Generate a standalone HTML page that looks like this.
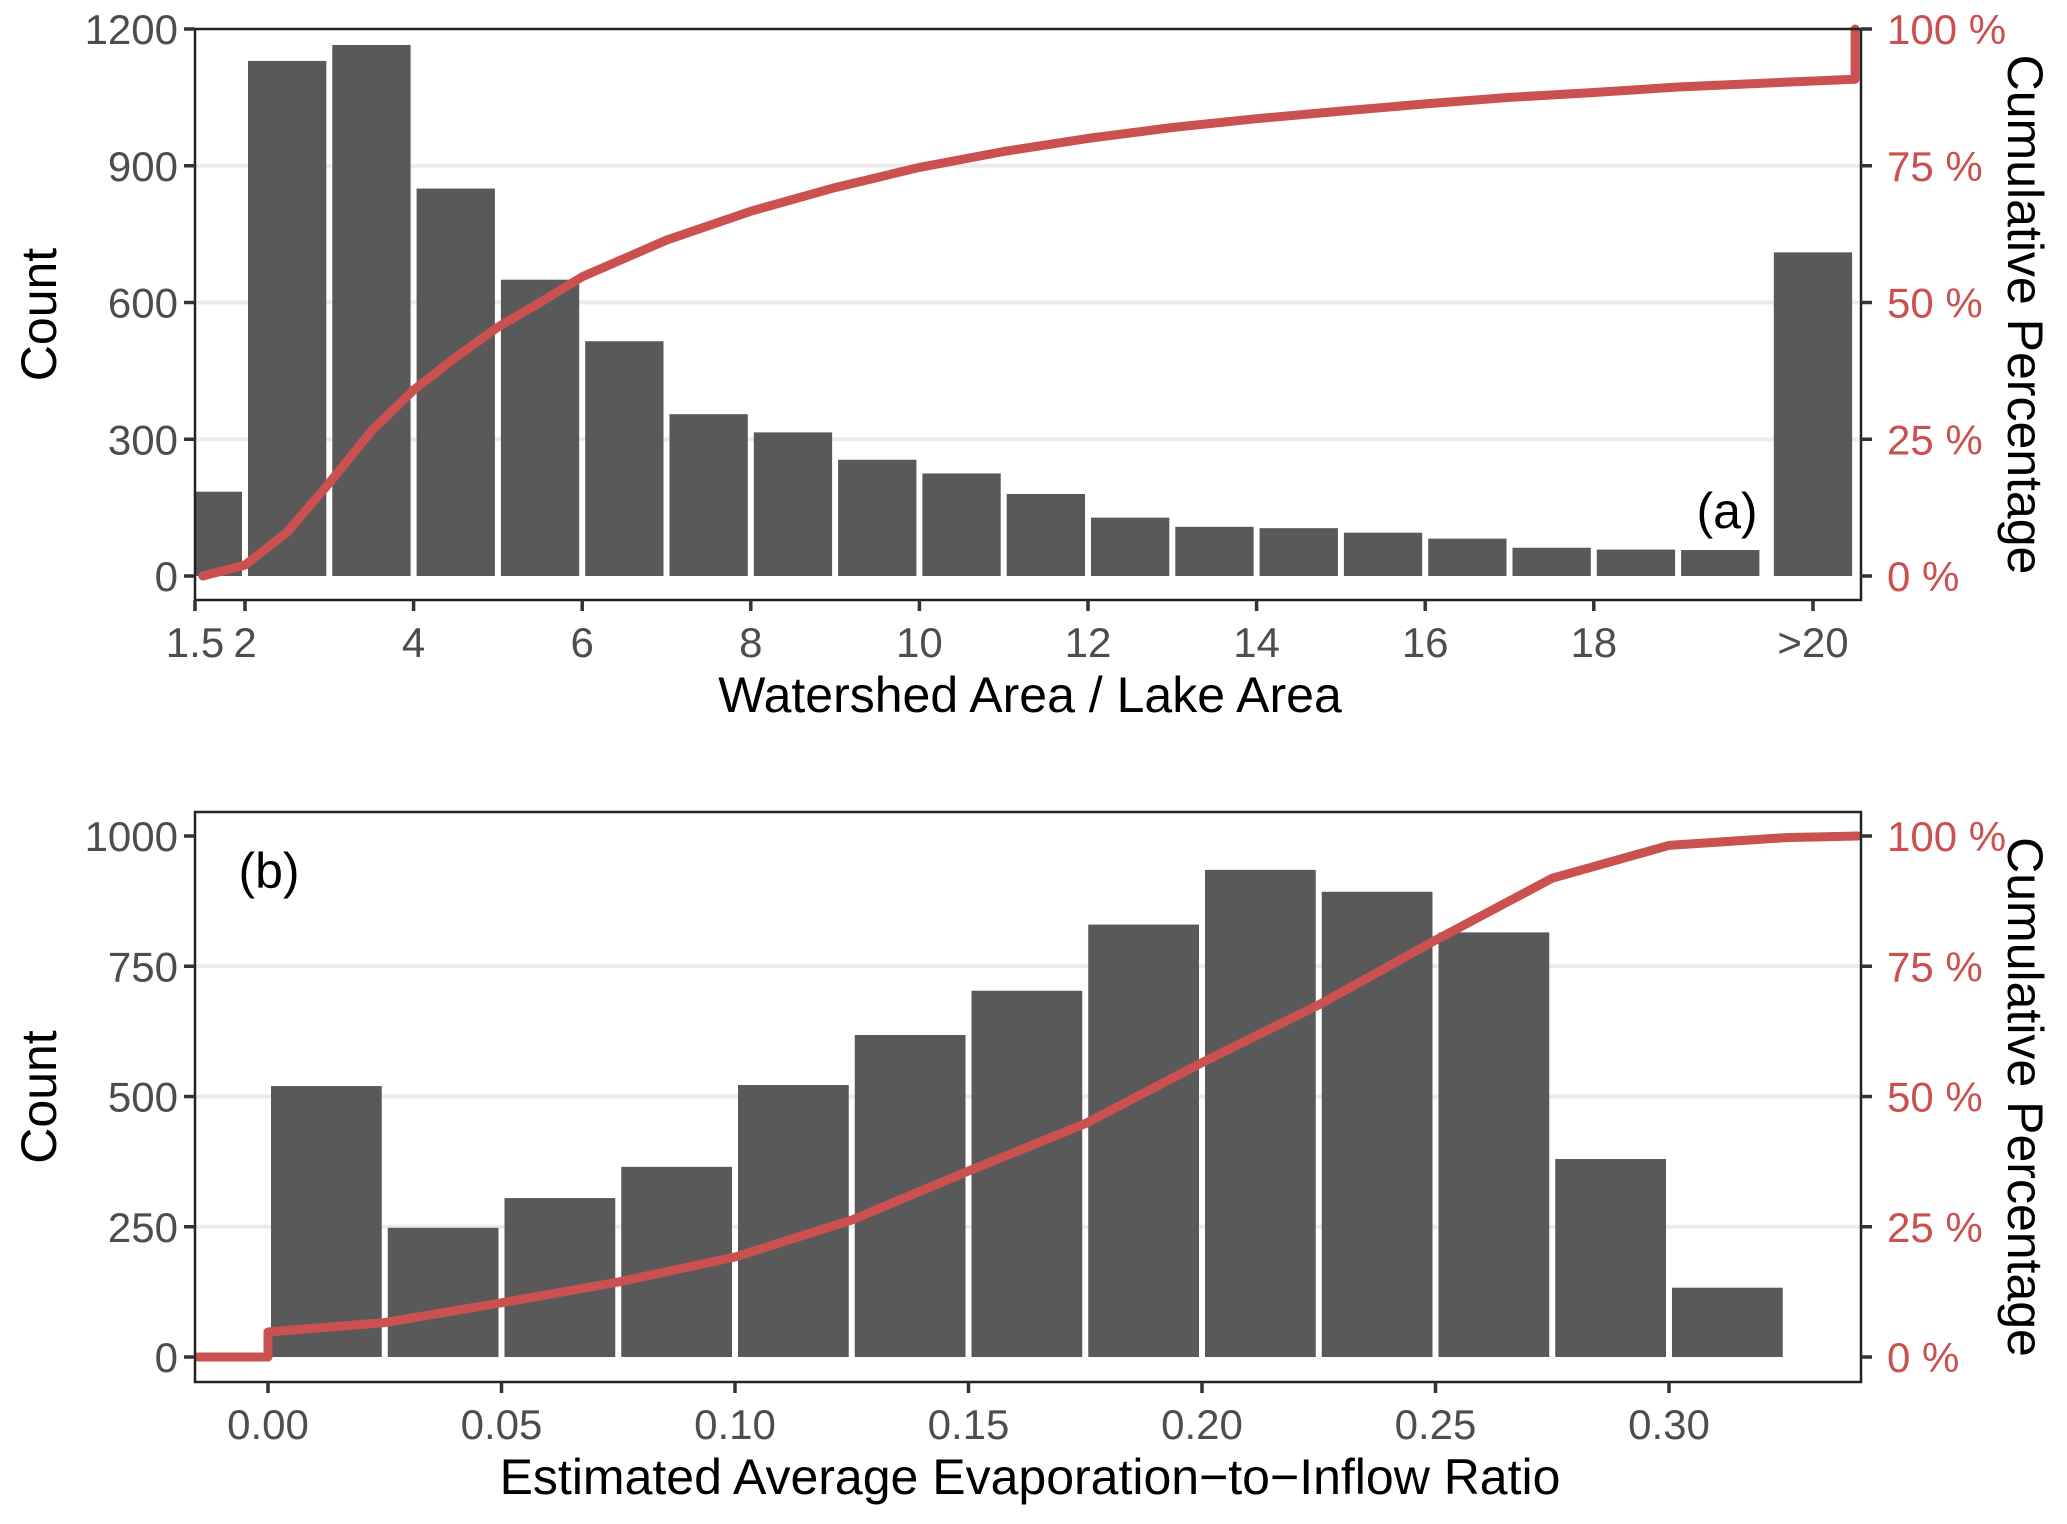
<!DOCTYPE html>
<html><head><meta charset="utf-8"><style>
html,body{margin:0;padding:0;background:#fff;}
svg{display:block;font-family:"Liberation Sans",Arial,sans-serif;}
</style></head><body>
<svg id="chart" width="2067" height="1524" viewBox="0 0 2067 1524" xmlns="http://www.w3.org/2000/svg">
<g id="pa"></g>
<g id="pb"></g>
</svg>
<script>
// Panel A data
const aBinStarts = [1.5,2,3,4,5,6,7,8,9,10,11,12,13,14,15,16,17,18,19,20.1];
const aBinEnds   = [2,3,4,5,6,7,8,9,10,11,12,13,14,15,16,17,18,19,20,21.1];
const aCounts    = [185,1130,1165,850,650,515,355,315,255,225,180,128,108,105,95,82,62,58,57,710];
const aCumX      = [1.5,2,2.5,3,3.5,4,4.5,5,5.5,6,7,8,9,10,11,12,13,14,15,16,17,18,19,20,21.1,21.1];
const aCumPct    = [0,2,8,17,26.5,34,40,45.5,50,54.7,61.4,66.7,71,74.7,77.6,80,82,83.6,85,86.3,87.5,88.4,89.4,90.1,90.8,100];
const aXTicks    = [2,4,6,8,10,12,14,16,18];
const aXTickLabels = ['2','4','6','8','10','12','14','16','18'];
const aYTicks    = [0,300,600,900,1200];
const aPctTicks  = [0,25,50,75,100];
// Panel B data
const bBinStarts = [0,0.025,0.05,0.075,0.1,0.125,0.15,0.175,0.2,0.225,0.25,0.275,0.3];
const bCounts    = [520,248,305,365,522,618,703,830,935,893,815,380,133];
const bCumX      = [-0.0158,0,0,0.025,0.05,0.075,0.1,0.125,0.15,0.175,0.2,0.225,0.25,0.275,0.3,0.325,0.341];
const bCumPct    = [0,0,4.8,6.6,10.4,14.4,19.2,26.3,35.7,44.8,56.5,67.6,80,91.9,98.2,99.7,100];
const bXTicks    = [0,0.05,0.1,0.15,0.2,0.25,0.3];
const bXTickLabels = ['0.00','0.05','0.10','0.15','0.20','0.25','0.30'];
const bYTicks    = [0,250,500,750,1000];
const bPctTicks  = [0,25,50,75,100];

const NS='http://www.w3.org/2000/svg';
function mk(parent,tag,attrs,text){const e=document.createElementNS(NS,tag);for(const k in attrs)e.setAttribute(k,attrs[k]);if(text!==undefined)e.textContent=text;parent.appendChild(e);return e;}
const RED='#cb5050', GRAY='#4d4d4d';
const TF=42, TITLEF=50;

function panel(g,o){
  const L=195,R=1861;
  o.yTicks.forEach(t=>{const y=o.y(t);if(t>0&&t<o.yMax){const l=mk(g,'line',{x1:L,x2:R,y1:y,y2:y,stroke:'#ebebeb','stroke-width':4});
    
    }});
  o.bars.forEach((b,i)=>{const x0=(i===0&&o.firstAtEdge)?L:Math.max(L,o.x(b.s)+3), x1=o.x(b.e)-3;const r=mk(g,'rect',{x:x0,y:o.y(b.v),width:x1-x0,height:o.y(0)-o.y(b.v),fill:'#595959'});
    
    });
  const pts=o.cumX.map((v,i)=>Math.max(L+3,Math.min(R-3,o.x(v))).toFixed(1)+','+o.yp(o.cumP[i]).toFixed(1)).join(' ');
  const pl=mk(g,'polyline',{points:pts,fill:'none',stroke:RED,'stroke-width':9,'stroke-linejoin':'round','stroke-linecap':'round'});
  
  
  const bd=mk(g,'rect',{x:L,y:o.top,width:R-L,height:o.bot-o.top,fill:'none',stroke:'#222','stroke-width':2.5});
  
  
  o.yTicks.forEach(t=>{const y=o.y(t);mk(g,'line',{x1:L-11,x2:L,y1:y,y2:y,stroke:'#333','stroke-width':3.5});
    const tx=mk(g,'text',{x:L-17,y:y+15,'text-anchor':'end','font-size':TF,fill:GRAY},String(t));
    
    });
  o.pTicks.forEach(t=>{const y=o.yp(t);mk(g,'line',{x1:R,x2:R+11,y1:y,y2:y,stroke:'#333','stroke-width':3.5});
    const tx=mk(g,'text',{x:R+26,y:y+15,'font-size':TF,fill:RED},t+' %');
    
    });
  o.xTicks.forEach((t,i)=>{const x=o.x(t);mk(g,'line',{x1:x,x2:x,y1:o.bot,y2:o.bot+11,stroke:'#333','stroke-width':3.5});
    const tx=mk(g,'text',{x:x,y:o.bot+57,'text-anchor':'middle','font-size':TF,fill:GRAY},o.xLabels[i]);
    
    });
  (o.extraX||[]).forEach(e=>{mk(g,'line',{x1:e.x,x2:e.x,y1:o.bot,y2:o.bot+11,stroke:'#333','stroke-width':3.5});
    const tx=mk(g,'text',{x:e.x,y:o.bot+57,'text-anchor':'middle','font-size':TF,fill:GRAY},e.l);
    
    });
  const xt=mk(g,'text',{x:1030,y:o.bot+112,'text-anchor':'middle','font-size':TITLEF,fill:'#000'},o.xTitle);
  
  
  const cy=(o.top+o.bot)/2;
  const yt=mk(g,'text',{x:0,y:0,transform:`translate(56,${cy}) rotate(-90)`,'text-anchor':'middle','font-size':TITLEF,fill:'#000'},'Count');
  
  
  const rt=mk(g,'text',{x:0,y:0,transform:`translate(2008,${cy}) rotate(90)`,'text-anchor':'middle','font-size':TITLEF,fill:'#000'},'Cumulative Percentage');
  
  
  const pl2=mk(g,'text',{x:o.label.x,y:o.label.y,'text-anchor':'middle','font-size':50,fill:'#000'},o.label.t);
  
  
}

const aX=v=>245+(v-2)*84.3;
const aY=v=>576-v*(547/1200);
const aYp=p=>576-p*(547/100);
panel(document.getElementById('pa'),{
  x:aX,y:aY,yp:aYp,top:29,bot:600,yMax:1200,firstAtEdge:true,
  bars:aCounts.map((v,i)=>({s:aBinStarts[i],e:aBinEnds[i],v:v})),
  cumX:aCumX,cumP:aCumPct,yTicks:aYTicks,pTicks:aPctTicks,
  xTicks:aXTicks,xLabels:aXTickLabels,
  extraX:[{x:195,l:'1.5'},{x:aX(20.6),l:'>20'}],
  xTitle:'Watershed Area / Lake Area',label:{x:1727,y:528,t:'(a)'}
});
const bX=v=>268+v*(233.5/0.05);
const bY=v=>1357-v*(521/1000);
const bYp=p=>1357-p*(521/100);
panel(document.getElementById('pb'),{
  x:bX,y:bY,yp:bYp,top:812,bot:1382,yMax:1000,
  bars:bCounts.map((v,i)=>({s:bBinStarts[i],e:bBinStarts[i]+0.025,v:v})),
  cumX:bCumX,cumP:bCumPct,yTicks:bYTicks,pTicks:bPctTicks,
  xTicks:bXTicks,xLabels:bXTickLabels,
  xTitle:'Estimated Average Evaporation\u2212to\u2212Inflow Ratio',label:{x:269,y:888,t:'(b)'}
});
</script>
</body></html>
